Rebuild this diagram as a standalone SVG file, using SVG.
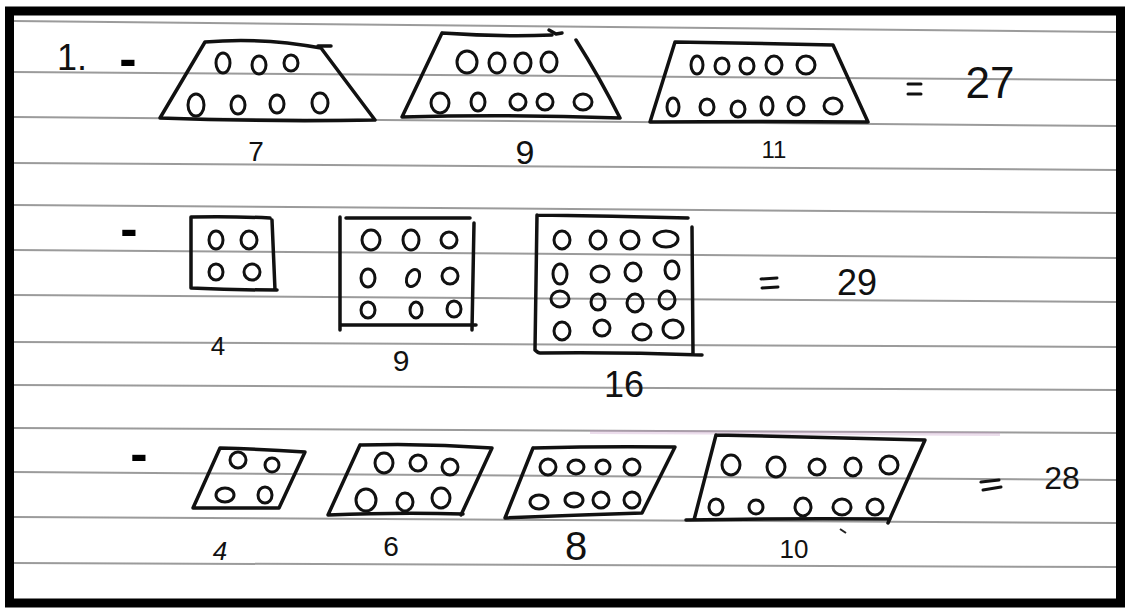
<svg xmlns="http://www.w3.org/2000/svg" width="1130" height="608" viewBox="0 0 1130 608">
<style>
.rule{stroke:#7a7a7a;stroke-width:2;opacity:0.75;fill:none}
.shape{fill:none;stroke:#111;stroke-width:3.5;stroke-linejoin:round;stroke-linecap:round}
.dot{fill:none;stroke:#111;stroke-width:3}
.lbl{font-family:"Liberation Sans","DejaVu Sans",sans-serif;fill:#111;text-anchor:middle}
.dash{font-family:"Liberation Sans","DejaVu Sans",sans-serif;fill:#000;text-anchor:middle;font-size:52px;font-weight:bold}
.eq{stroke:#111;stroke-width:3;stroke-linecap:round}
</style>
<rect x="0" y="0" width="1130" height="608" fill="#ffffff"/>
<g id="rules">
<line class="rule" x1="14" y1="21" x2="1118" y2="32"/>
<line class="rule" x1="14" y1="72" x2="1118" y2="80" opacity="0.4"/>
<line class="rule" x1="14" y1="117" x2="1118" y2="126"/>
<line class="rule" x1="14" y1="163" x2="1118" y2="170"/>
<line class="rule" x1="14" y1="205" x2="1118" y2="213"/>
<line class="rule" x1="14" y1="250" x2="1118" y2="258"/>
<line class="rule" x1="14" y1="295" x2="1118" y2="302"/>
<line class="rule" x1="14" y1="342" x2="1118" y2="347"/>
<line class="rule" x1="14" y1="385" x2="1118" y2="390"/>
<line class="rule" x1="14" y1="428" x2="1118" y2="433"/>
<line class="rule" x1="14" y1="472" x2="1118" y2="480"/>
<line class="rule" x1="14" y1="517" x2="1118" y2="523"/>
<line class="rule" x1="14" y1="563" x2="1118" y2="567"/>
<line x1="590" y1="432" x2="1000" y2="434" stroke="#c9a0c9" stroke-width="4" opacity="0.35"/>
</g>
<rect id="frame" x="9.5" y="11" width="1111" height="592" fill="none" stroke="#000" stroke-width="9"/>

<g id="heading">
<text class="lbl" x="72" y="70" font-size="36">1.</text>
<text class="dash" x="128" y="76">-</text>
</g>

<g id="trap7">
<path class="shape" d="M205,42 Q262,37 321,48 L375,120 Q270,122 160,118 Z"/>
<path class="shape" d="M318,46 L331,46"/>
<ellipse class="dot" cx="223" cy="63" rx="7" ry="10"/>
<ellipse class="dot" cx="259" cy="65" rx="7" ry="9"/>
<ellipse class="dot" cx="291" cy="63" rx="7" ry="8"/>
<ellipse class="dot" cx="196" cy="105" rx="8" ry="11"/>
<ellipse class="dot" cx="238" cy="105" rx="7" ry="9"/>
<ellipse class="dot" cx="277" cy="104" rx="7" ry="9"/>
<ellipse class="dot" cx="320" cy="103" rx="8" ry="10"/>
<text class="lbl" x="256" y="161" font-size="28">7</text>
</g>

<g id="trap9">
<path class="shape" d="M442,33 Q500,37 552,35 M576,40 Q600,78 620,118 Q510,114 402,117 L442,33"/>
<path class="shape" d="M549,30 L556,34 L562,33"/>
<ellipse class="dot" cx="467" cy="62" rx="10" ry="11"/>
<ellipse class="dot" cx="497" cy="63" rx="8" ry="10"/>
<ellipse class="dot" cx="523" cy="63" rx="8" ry="10"/>
<ellipse class="dot" cx="549" cy="62" rx="8" ry="10"/>
<ellipse class="dot" cx="440" cy="103" rx="9" ry="10"/>
<ellipse class="dot" cx="478" cy="102" rx="7" ry="9"/>
<ellipse class="dot" cx="518" cy="102" rx="8" ry="8"/>
<ellipse class="dot" cx="545" cy="102" rx="8" ry="8"/>
<ellipse class="dot" cx="583" cy="102" rx="9" ry="8"/>
<text class="lbl" x="525" y="164" font-size="34">9</text>
</g>

<g id="trap11">
<path class="shape" d="M675,42 Q755,43 833,45 L868,122 Q760,121 650,122 Z"/>
<ellipse class="dot" cx="697" cy="65" rx="6" ry="9"/>
<ellipse class="dot" cx="722" cy="66" rx="7" ry="8"/>
<ellipse class="dot" cx="747" cy="66" rx="7" ry="8"/>
<ellipse class="dot" cx="774" cy="65" rx="8" ry="9"/>
<ellipse class="dot" cx="806" cy="65" rx="9" ry="9"/>
<ellipse class="dot" cx="673" cy="107" rx="6" ry="9"/>
<ellipse class="dot" cx="707" cy="107" rx="7" ry="8"/>
<ellipse class="dot" cx="738" cy="109" rx="7" ry="8"/>
<ellipse class="dot" cx="767" cy="106" rx="6" ry="9"/>
<ellipse class="dot" cx="796" cy="106" rx="8" ry="9"/>
<ellipse class="dot" cx="833" cy="106" rx="9" ry="8"/>
<text class="lbl" x="774" y="158" font-size="24">11</text>
</g>

<g id="sum27">
<line class="eq" x1="908" y1="84" x2="921" y2="84"/>
<line class="eq" x1="908" y1="94" x2="921" y2="94"/>
<text class="lbl" x="990" y="98" font-size="44">27</text>
</g>

<g id="row2dash">
<text class="dash" x="129" y="246">-</text>
</g>

<g id="sq4">
<path class="shape" d="M191,217 Q230,216 270,218 M272,220 L275,290 M191,217 L191,288 Q235,290 277,290"/>
<ellipse class="dot" cx="216" cy="240" rx="7" ry="9"/>
<ellipse class="dot" cx="249" cy="240" rx="8" ry="9"/>
<ellipse class="dot" cx="216" cy="272" rx="7" ry="8"/>
<ellipse class="dot" cx="252" cy="272" rx="8" ry="8"/>
<text class="lbl" x="218" y="355" font-size="26">4</text>
</g>

<g id="sq9">
<path class="shape" d="M346,218 L470,218 M474,223 L472,330 M342,325 L476,325 M340,217 L340,330"/>
<ellipse class="dot" cx="371" cy="240" rx="9" ry="10"/>
<ellipse class="dot" cx="411" cy="240" rx="8" ry="10"/>
<ellipse class="dot" cx="449" cy="240" rx="8" ry="8"/>
<ellipse class="dot" cx="368" cy="278" rx="7" ry="9"/>
<ellipse class="dot" cx="413" cy="278" rx="6" ry="9" transform="rotate(25 413 278)"/>
<ellipse class="dot" cx="450" cy="276" rx="8" ry="8"/>
<ellipse class="dot" cx="368" cy="310" rx="7" ry="8"/>
<ellipse class="dot" cx="416" cy="310" rx="6" ry="8"/>
<ellipse class="dot" cx="454" cy="309" rx="7" ry="8"/>
<text class="lbl" x="401" y="371" font-size="30">9</text>
</g>

<g id="sq16">
<path class="shape" d="M537,215 Q612,216 688,218 M692,227 L693,353 M537,215 L535,350 Q538,353 540,353 Q620,352 702,355"/>
<ellipse class="dot" cx="562" cy="240" rx="8" ry="9"/>
<ellipse class="dot" cx="598" cy="240" rx="8" ry="9"/>
<ellipse class="dot" cx="630" cy="240" rx="9" ry="9"/>
<ellipse class="dot" cx="666" cy="239" rx="12" ry="8"/>
<ellipse class="dot" cx="560" cy="274" rx="7" ry="10"/>
<ellipse class="dot" cx="600" cy="274" rx="9" ry="8"/>
<ellipse class="dot" cx="633" cy="272" rx="8" ry="9"/>
<ellipse class="dot" cx="672" cy="270" rx="7" ry="9"/>
<ellipse class="dot" cx="560" cy="299" rx="9" ry="8"/>
<ellipse class="dot" cx="598" cy="302" rx="7" ry="8"/>
<ellipse class="dot" cx="635" cy="303" rx="8" ry="9"/>
<ellipse class="dot" cx="667" cy="300" rx="8" ry="9"/>
<ellipse class="dot" cx="562" cy="331" rx="8" ry="9"/>
<ellipse class="dot" cx="602" cy="328" rx="8" ry="8"/>
<ellipse class="dot" cx="642" cy="332" rx="9" ry="8"/>
<ellipse class="dot" cx="673" cy="329" rx="10" ry="9"/>
<text class="lbl" x="624" y="397" font-size="36">16</text>
</g>

<g id="sum29">
<line class="eq" x1="761" y1="279" x2="777" y2="278"/>
<line class="eq" x1="762" y1="288" x2="778" y2="287"/>
<text class="lbl" x="857" y="295" font-size="36">29</text>
</g>

<g id="row3dash">
<text class="dash" x="139" y="471">-</text>
</g>

<g id="para4">
<path class="shape" d="M220,448 Q262,449 305,452 L279,508 L193,508 Z"/>
<ellipse class="dot" cx="238" cy="460" rx="8" ry="8"/>
<ellipse class="dot" cx="272" cy="465" rx="7" ry="7"/>
<ellipse class="dot" cx="225" cy="495" rx="9" ry="7"/>
<ellipse class="dot" cx="265" cy="495" rx="7" ry="8"/>
<text class="lbl" x="220" y="560" font-size="26" font-style="italic">4</text>
</g>

<g id="para6">
<path class="shape" d="M360,445 Q426,443 492,448 L461,515 M463,514 Q400,512 328,515 L360,445"/>
<ellipse class="dot" cx="384" cy="463" rx="9" ry="10"/>
<ellipse class="dot" cx="418" cy="463" rx="8" ry="8"/>
<ellipse class="dot" cx="450" cy="467" rx="8" ry="8"/>
<ellipse class="dot" cx="366" cy="500" rx="10" ry="11"/>
<ellipse class="dot" cx="405" cy="502" rx="8" ry="9"/>
<ellipse class="dot" cx="441" cy="498" rx="9" ry="10"/>
<text class="lbl" x="391" y="556" font-size="28">6</text>
</g>

<g id="para8">
<path class="shape" d="M533,448 Q604,446 675,447 L642,513 Q575,515 505,518 L533,448"/>
<ellipse class="dot" cx="548" cy="467" rx="8" ry="8"/>
<ellipse class="dot" cx="576" cy="467" rx="8" ry="7"/>
<ellipse class="dot" cx="603" cy="467" rx="7" ry="7"/>
<ellipse class="dot" cx="632" cy="467" rx="8" ry="8"/>
<ellipse class="dot" cx="539" cy="502" rx="9" ry="7"/>
<ellipse class="dot" cx="574" cy="500" rx="9" ry="7"/>
<ellipse class="dot" cx="601" cy="500" rx="8" ry="8"/>
<ellipse class="dot" cx="632" cy="500" rx="8" ry="8"/>
<text class="lbl" x="576" y="560" font-size="40">8</text>
</g>

<g id="para10">
<path class="shape" d="M716,435 Q820,437 925,440 L888,523 M890,519 Q790,518 686,520 M694,520 L716,435"/>
<ellipse class="dot" cx="731" cy="465" rx="9" ry="10"/>
<ellipse class="dot" cx="776" cy="467" rx="9" ry="10"/>
<ellipse class="dot" cx="817" cy="467" rx="8" ry="8"/>
<ellipse class="dot" cx="853" cy="467" rx="8" ry="9"/>
<ellipse class="dot" cx="889" cy="465" rx="9" ry="9"/>
<ellipse class="dot" cx="716" cy="507" rx="7" ry="8"/>
<ellipse class="dot" cx="756" cy="507" rx="7" ry="7"/>
<ellipse class="dot" cx="803" cy="507" rx="8" ry="9"/>
<ellipse class="dot" cx="842" cy="507" rx="9" ry="8"/>
<ellipse class="dot" cx="875" cy="507" rx="8" ry="8"/>
<line x1="840" y1="529" x2="846" y2="533" stroke="#222" stroke-width="2"/>
<text class="lbl" x="794" y="558" font-size="26">10</text>
</g>

<g id="sum28">
<line class="eq" x1="981" y1="482" x2="999" y2="480"/>
<line class="eq" x1="983" y1="490" x2="1001" y2="487"/>
<text class="lbl" x="1062" y="489" font-size="32" fill="#333">28</text>
</g>
</svg>
